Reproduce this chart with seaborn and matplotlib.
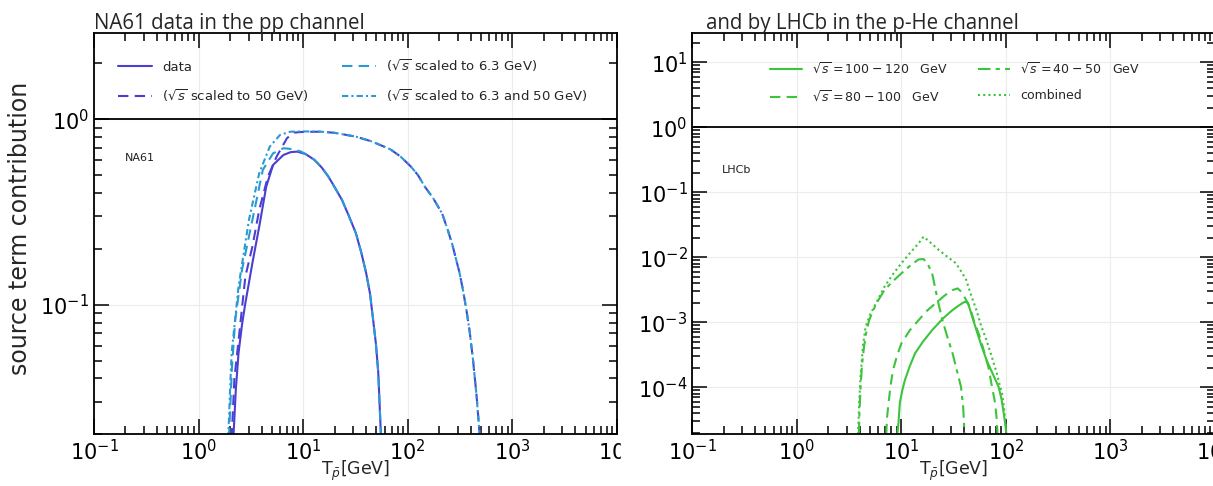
import numpy as np
import pandas as pd
import matplotlib
matplotlib.use("Agg")
import matplotlib.pyplot as plt
from matplotlib.patches import Rectangle
from matplotlib.ticker import NullFormatter
import seaborn as sns

sns.set_theme(style="ticks")
plt.rcParams['font.family'] = ['DejaVu Sans']
plt.rcParams['mathtext.fontset'] = 'dejavusans'

# ---------------- data: left panel (NA61, pp) ----------------
data_x = [2.15, 2.27, 2.41, 2.6, 2.80, 3.27, 3.80, 4.43, 5.15, 6.47, 7.6, 8.77, 10.5, 12.8, 15.0,
          17.4, 20.0, 23.5, 27.4, 31.9, 36.0, 40.0, 43.5, 46.6, 49.5, 52.2, 55.5]
data_y = [0.019, 0.035, 0.055, 0.078, 0.102, 0.168, 0.264, 0.433, 0.567, 0.642, 0.665, 0.669, 0.65,
          0.604, 0.55, 0.491, 0.43, 0.367, 0.30, 0.243, 0.19, 0.148, 0.115, 0.083, 0.062, 0.043, 0.019]

s50_x = [2.07, 2.2, 2.45, 2.80, 3.27, 3.80, 4.6, 5.57, 6.99, 8.13, 10.0, 14.9, 20.0, 31.9, 45.0, 68,
         85, 107, 125, 145.5, 175, 213, 240, 267, 290, 311, 335, 362, 390, 421, 455, 490]
s50_y = [0.019, 0.04, 0.07, 0.142, 0.206, 0.325, 0.491, 0.629, 0.79, 0.847, 0.855, 0.857, 0.845,
         0.806, 0.76, 0.689, 0.63, 0.556, 0.50, 0.433, 0.375, 0.31, 0.255, 0.21, 0.175, 0.15,
         0.122, 0.095, 0.072, 0.05, 0.032, 0.019]

s63_x = [1.95, 2.08, 2.24, 2.6, 3.27, 4.11, 5.15, 6.47, 8.0, 9.5, 10.5, 12.8, 15.0, 17.4, 20.0,
         23.5, 27.4, 31.9, 36.0, 40.0, 43.5, 46.6, 49.5, 52.2, 55.5]
s63_y = [0.019, 0.045, 0.083, 0.154, 0.287, 0.533, 0.655, 0.698, 0.69, 0.67, 0.65, 0.604, 0.55,
         0.491, 0.43, 0.367, 0.30, 0.243, 0.19, 0.148, 0.115, 0.083, 0.062, 0.043, 0.019]

sboth_x = [1.92, 2.0, 2.07, 2.41, 3.03, 3.80, 4.79, 6.0, 7.53, 10.0, 14.9, 20.0, 31.9, 45.0, 68,
           85, 107, 125, 145.5, 175, 213, 240, 267, 290, 311, 335, 362, 390, 421, 455, 490]
sboth_y = [0.019, 0.035, 0.055, 0.1255, 0.287, 0.512, 0.712, 0.823, 0.857, 0.86, 0.857, 0.845,
           0.806, 0.76, 0.689, 0.63, 0.556, 0.50, 0.433, 0.375, 0.31, 0.255, 0.21, 0.175, 0.15,
           0.122, 0.095, 0.072, 0.05, 0.032, 0.019]

left_labels = ["data", r"($\sqrt{s}$ scaled to 50 GeV)",
               r"($\sqrt{s}$ scaled to 6.3 GeV)", r"($\sqrt{s}$ scaled to 6.3 and 50 GeV)"]

# ---------------- data: right panel (LHCb, p-He) ----------------
r120_x = [9.16, 9.4, 9.66, 10.2, 10.8, 12.0, 13.5, 16.0, 19.7, 25.0, 30.9, 36.0, 40.2, 43.3,
          47.0, 52.2, 58.0, 65.3, 75.0, 85.1, 91.0, 95.3, 99.0, 101]
r120_y = [1.9e-5, 3.0e-5, 5.7e-5, 9.0e-5, 1.29e-4, 2.1e-4, 3.33e-4, 5.0e-4, 7.6e-4, 1.15e-3,
          1.55e-3, 1.85e-3, 2.07e-3, 2.0e-3, 1.3e-3, 7.6e-4, 4.5e-4, 2.63e-4, 1.6e-4, 1.02e-4,
          6.5e-5, 4.0e-5, 2.6e-5, 1.9e-5]

r100_x = [7.16, 7.3, 7.53, 7.9, 8.32, 9.1, 10.0, 12.0, 14.6, 17.5, 21.2, 26.0, 30.9, 34.5, 38.0,
          45.0, 50.0, 56.3, 62.0, 67.9, 73.0, 78.9, 81.5, 83.2]
r100_y = [1.9e-5, 3.5e-5, 5.7e-5, 1.1e-4, 1.85e-4, 3.1e-4, 4.75e-4, 7.5e-4, 1.08e-3, 1.5e-3,
          1.96e-3, 2.6e-3, 3.14e-3, 3.33e-3, 2.9e-3, 1.74e-3, 1.0e-3, 6.0e-4, 3.5e-4, 2.07e-4,
          1.1e-4, 5.7e-5, 3.3e-5, 1.9e-5]

r50_x = [3.92, 3.98, 4.07, 4.2, 4.39, 4.6, 4.91, 5.7, 6.89, 8.3, 10.0, 12.2, 14.6, 16.3, 17.8,
         19.7, 21.2, 22.9, 24.7, 27.5, 30.9, 34.0, 37.2, 39.0, 40.2]
r50_y = [1.9e-5, 4.5e-5, 1.02e-4, 2.2e-4, 4.2e-4, 6.8e-4, 1.08e-3, 1.9e-3, 3.14e-3, 4.3e-3,
         5.67e-3, 7.5e-3, 9.3e-3, 9.4e-3, 8.0e-3, 5.67e-3, 3.2e-3, 1.8e-3, 1.08e-3, 6.0e-4,
         3.33e-4, 1.8e-4, 1.02e-4, 5.0e-5, 1.9e-5]

rcomb_x = [3.85, 3.95, 4.07, 4.3, 4.55, 5.0, 5.5, 6.89, 8.3, 10.0, 12.0, 14.6, 16.3, 18.5, 22.9,
           28.0, 33.3, 37.5, 41.7, 46.5, 52.2, 58.0, 65.3, 73.0, 81.9, 87.0, 91.8, 96.5, 101]
rcomb_y = [1.9e-5, 6.0e-5, 1.5e-4, 4.5e-4, 8.6e-4, 1.3e-3, 1.74e-3, 3.53e-3, 5.5e-3, 8.1e-3,
           1.15e-2, 1.64e-2, 2.08e-2, 1.75e-2, 1.29e-2, 1.0e-2, 8.1e-3, 6.0e-3, 4.5e-3, 2.6e-3,
           1.55e-3, 8.8e-4, 5.3e-4, 3.0e-4, 1.64e-4, 1.1e-4, 8.1e-5, 4.5e-5, 1.9e-5]

right_labels = [r"$\sqrt{s}=100-120$   GeV", r"$\sqrt{s}=80-100$   GeV",
                r"$\sqrt{s}=40-50$   GeV", "combined"]

# ---------------- figure ----------------
W, H = 1213, 486
fig = plt.figure(figsize=(W / 100, H / 100), dpi=100)

def px_axes(x0, x1, y0, y1):
    return fig.add_axes([x0 / W, 1 - y1 / H, (x1 - x0) / W, (y1 - y0) / H])

axL = px_axes(94, 617, 32.7, 434.3)
axR = px_axes(692.3, 1215, 32.7, 434.3)

purple = "#4a3fd2"
cyan = "#2a9ad4"
green = "#3cc43c"
lw = 1.5

def line(ax, x, y, color, ls, label):
    df = pd.DataFrame({"x": x, "y": y})
    sns.lineplot(data=df, x="x", y="y", ax=ax, color=color, linestyle=ls, lw=lw,
                 label=label, sort=False, estimator=None)

line(axL, data_x, data_y, purple, "-", left_labels[0])
line(axL, s50_x, s50_y, purple, (0, (5, 3)), left_labels[1])
line(axL, s63_x, s63_y, cyan, (0, (5, 3)), left_labels[2])
line(axL, sboth_x, sboth_y, cyan, (0, (3, 1.5, 1, 1.5)), left_labels[3])

line(axR, r120_x, r120_y, green, "-", right_labels[0])
line(axR, r100_x, r100_y, green, (0, (5, 3)), right_labels[1])
line(axR, r50_x, r50_y, green, (0, (6, 2.5, 2, 2.5)), right_labels[2])
line(axR, rcomb_x, rcomb_y, green, (0, (1, 1.5)), right_labels[3])

for ax, ylim in [(axL, (0.02, 2.93)), (axR, (1.9e-5, 28.5))]:
    ax.set_xscale("log")
    ax.set_yscale("log")
    ax.set_xlim(0.1, 1e4)
    ax.set_ylim(*ylim)
    ax.axhline(1.0, color="black", lw=1.3, zorder=3)
    ax.grid(True, which="major", color="#ececec", lw=0.8)
    ax.set_axisbelow(True)
    ax.tick_params(which="both", direction="in", top=True, right=True,
                   colors="black", labelsize=15, width=1.1)
    ax.tick_params(which="major", length=11)
    ax.tick_params(which="minor", length=6)
    ax.xaxis.set_minor_formatter(NullFormatter())
    ax.yaxis.set_minor_formatter(NullFormatter())
    for s in ax.spines.values():
        s.set_color("black")
        s.set_linewidth(1.3)
    ax.set_xlabel("")
    ax.set_ylabel("")

for xc in (355.5, 953.5):
    fig.text(xc / W, 1 - 471 / H, r"T$_{\bar{p}}$[GeV]", ha="center", va="center",
             fontsize=12.5)

leg_common = dict(loc="center left", ncol=2, frameon=False, handlelength=2.6,
                  handletextpad=0.8, labelspacing=1.0, borderpad=0, borderaxespad=0)
axL.legend(bbox_to_anchor=(0.045, 0.881), fontsize=9.5, columnspacing=2.45, **leg_common)
axR.legend(bbox_to_anchor=(0.148, 0.875), fontsize=9, columnspacing=2.4, **leg_common)

axL.text(0.059, 0.688, "NA61", transform=axL.transAxes, fontsize=8, va="center",
         ha="left", color="#222222")
axR.text(0.057, 0.658, "LHCb", transform=axR.transAxes, fontsize=8, va="center",
         ha="left", color="#222222")

fig.text(20 / W, 1 - 228 / H, "source term contribution", rotation=90,
         ha="center", va="center", fontsize=17)

fig.text(94 / W, 1 - 29 / H, "NA61 data in the pp channel", ha="left",
         va="baseline", fontsize=14.8, family=["Open Sans", "DejaVu Sans"])
fig.text(706 / W, 1 - 29 / H, "and by LHCb in the p-He channel", ha="left",
         va="baseline", fontsize=14.8, family=["Open Sans", "DejaVu Sans"])

# the reference crops the left panel's last tick label
fig.add_artist(Rectangle((621 / W, 1 - 472 / H), 40 / W, 36 / H,
                         transform=fig.transFigure, color="white", zorder=10))

fig.savefig("out.png", dpi=100)
